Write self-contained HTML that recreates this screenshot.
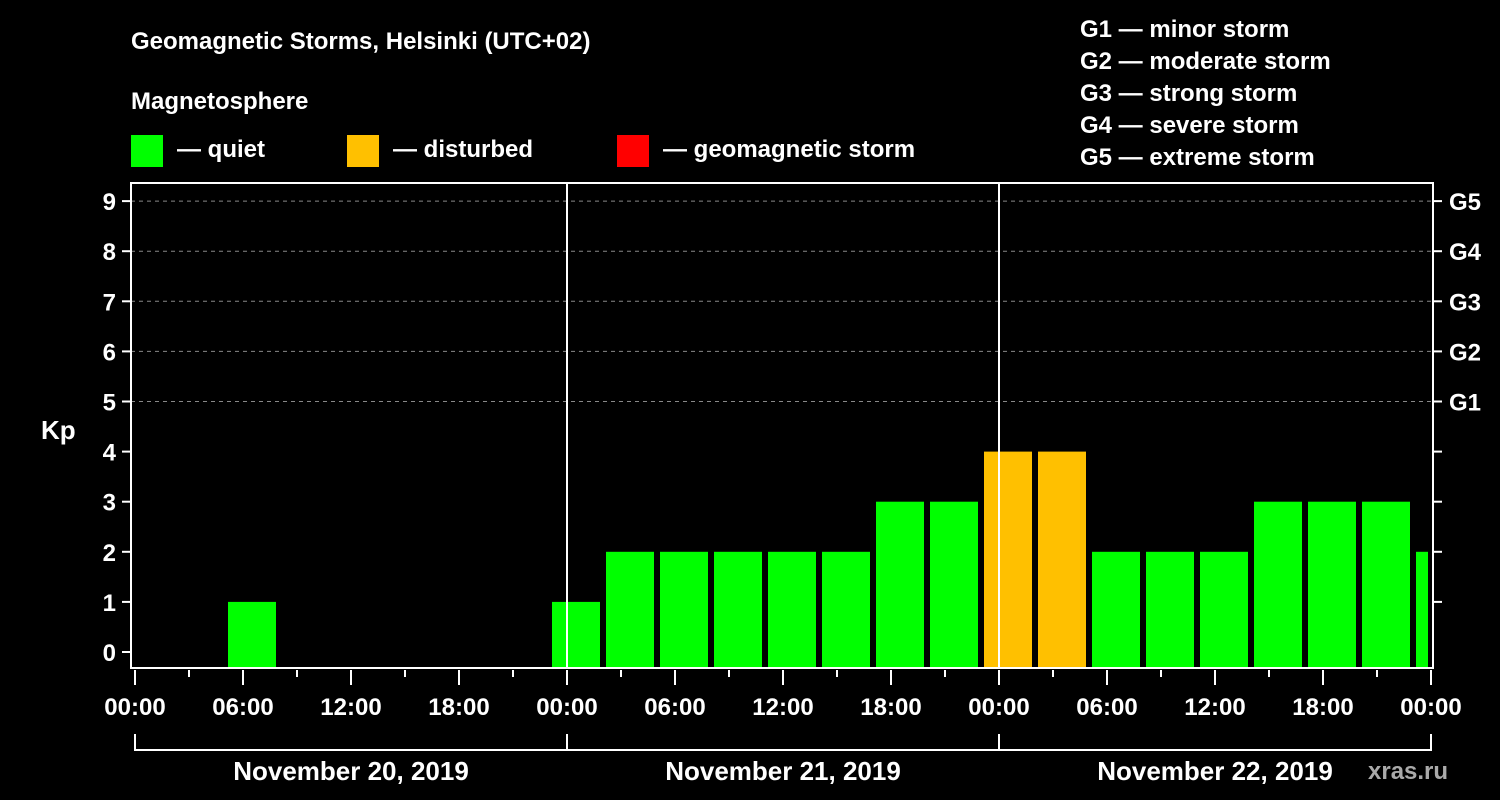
<!DOCTYPE html>
<html><head><meta charset="utf-8"><style>
body{margin:0;background:#000;width:1500px;height:800px;overflow:hidden}
svg{display:block}
text{font-family:"Liberation Sans",sans-serif;font-weight:bold;fill:#fff}
</style></head><body>
<svg id="chart" width="1500" height="800">
<rect width="1500" height="800" fill="#000"/>
<text x="131" y="49" font-size="24">Geomagnetic Storms, Helsinki (UTC+02)</text>
<text x="131" y="109" font-size="24">Magnetosphere</text>
<g><rect x="131" y="135" width="32" height="32" fill="#00ff00"/><text x="177" y="157" font-size="24">— quiet</text></g>
<g><rect x="347" y="135" width="32" height="32" fill="#ffc000"/><text x="393" y="157" font-size="24">— disturbed</text></g>
<g><rect x="617" y="135" width="32" height="32" fill="#ff0000"/><text x="663" y="157" font-size="24">— geomagnetic storm</text></g>
<g font-size="24">
<text x="1080" y="37">G1 — minor storm</text>
<text x="1080" y="69">G2 — moderate storm</text>
<text x="1080" y="101">G3 — strong storm</text>
<text x="1080" y="133">G4 — severe storm</text>
<text x="1080" y="165">G5 — extreme storm</text>
</g>
<text x="41" y="439" font-size="26">Kp</text>
<text x="1368" y="779" font-size="24" fill="#aaa" style="fill:#aaa">xras.ru</text>
<g id="grid"></g><g id="bars"></g><g id="axes"></g>
</svg>
<script>
const kpValues=[0,0,1,0,0,0,0,0, 1,2,2,2,2,2,3,3, 4,4,2,2,2,3,3,3, 2];
const yTicks=[0,1,2,3,4,5,6,7,8,9];
const gLabels=["G1","G2","G3","G4","G5"];
const hourLabels=["00:00","06:00","12:00","18:00"];
const dayLabels=["November 20, 2019","November 21, 2019","November 22, 2019"];
const NS="http://www.w3.org/2000/svg";
const L=131,R=1433,T=183,B=668,X0=135,PXH=18;
const yS=v=>652-v*50.1;
const xS=h=>X0+h*PXH;
function mk(tag,attrs,parent,txt){const e=document.createElementNS(NS,tag);for(const k in attrs)e.setAttribute(k,attrs[k]);if(txt!==undefined)e.textContent=txt;parent.appendChild(e);return e;}
const grid=document.getElementById('grid'),bars=document.getElementById('bars'),axes=document.getElementById('axes');
yTicks.forEach(v=>{
 if(v>=5){const g=mk('line',{x1:L,x2:R,y1:yS(v),y2:yS(v),stroke:'#888','stroke-dasharray':'4,4','stroke-width':1},grid);
 
 }
 const t=mk('line',{x1:L-9,x2:L,y1:yS(v),y2:yS(v),stroke:'#fff','stroke-width':2},axes);
 
 
 const lb=mk('text',{x:L-15,y:yS(v)+9,'font-size':24,'text-anchor':'end'},axes,String(v));
 
 
 if(v>=1){const rt=mk('line',{x1:R,x2:R+9,y1:yS(v),y2:yS(v),stroke:'#fff','stroke-width':2},axes);
 
 }
});
gLabels.forEach((g,i)=>{const t=mk('text',{x:1449,y:yS(5+i)+9,'font-size':24},axes,g);
 
 });
kpValues.forEach((v,i)=>{if(v<=0)return;
 const x=xS(i*3)-15;const w=Math.min(48,B-0+R-5-x>0?Math.min(48,R-5-x):48);
 const r=mk('rect',{x:x,y:yS(v),width:Math.max(0,Math.min(48,R-5-x)),height:B-yS(v),fill:v>=5?'#ff0000':(v>=4?'#ffc000':'#00ff00')},bars);
 
 });
const frame=mk('rect',{x:L,y:T,width:R-L,height:B-T,fill:'none',stroke:'#fff','stroke-width':2},axes);


[1,2].forEach(d=>{const l=mk('line',{x1:xS(d*24),x2:xS(d*24),y1:T,y2:B,stroke:'#fff','stroke-width':2},axes);
 
 });
for(let h=0;h<=72;h+=3){const major=h%6===0;
 const t=mk('line',{x1:xS(h),x2:xS(h),y1:B+2,y2:major?B+17:B+9,stroke:'#fff','stroke-width':2},axes);
 
 
 if(major){const lb=mk('text',{x:xS(h),y:B+47,'font-size':24,'text-anchor':'middle'},axes,hourLabels[(h/6)%4]);
 
 }}
const br=mk('line',{x1:xS(0),x2:xS(72),y1:750,y2:750,stroke:'#fff','stroke-width':2},axes);


for(let d=0;d<=3;d++){const s=mk('line',{x1:xS(d*24),x2:xS(d*24),y1:734,y2:751,stroke:'#fff','stroke-width':2},axes);
 
 }
dayLabels.forEach((d,i)=>{const t=mk('text',{x:xS(i*24+12),y:780,'font-size':26,'text-anchor':'middle'},axes,d);
 
 });
</script>
</body></html>
